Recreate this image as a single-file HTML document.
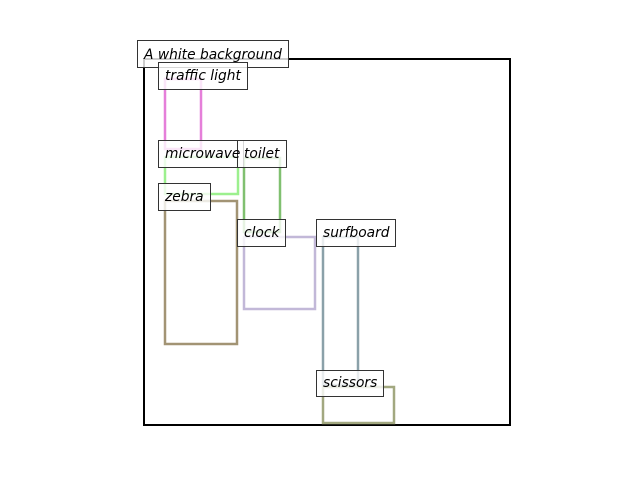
<!DOCTYPE html>
<html><head><style>body{margin:0;background:#fff}svg{display:block}text{font-family:"DejaVu Sans","Liberation Sans",sans-serif;font-style:italic;font-size:13.8px;fill:#000}</style></head>
<body>
<svg width="640" height="480" viewBox="0 0 640 480">
<rect x="144" y="59" width="366" height="366" fill="#fff" stroke="#000" stroke-width="2"/>
<g fill="none" stroke-width="2.5">
<rect x="165" y="79" width="36" height="70" stroke="#e57fd9"/>
<rect x="165" y="157" width="73" height="37" stroke="#9cf08e"/>
<rect x="244" y="158" width="36" height="74" stroke="#80c070"/>
<rect x="165" y="201" width="72" height="143" stroke="#a29474"/>
<rect x="244" y="237" width="71" height="72" stroke="#c2b8d8"/>
<rect x="323" y="237" width="35" height="148" stroke="#8ba1a9"/>
<rect x="323" y="387" width="71" height="36" stroke="#a2a880"/>
</g>
<g fill="#fff" fill-opacity="0.8" stroke="#333" stroke-width="1">
<rect x="137.5" y="40.5" width="151" height="27"/>
<rect x="158.5" y="62.5" width="89" height="27"/>
<rect x="158.5" y="140.5" width="85" height="27"/>
<rect x="237.5" y="140.5" width="49" height="27"/>
<rect x="158.5" y="183.5" width="52" height="27"/>
<rect x="237.5" y="219.5" width="48" height="27"/>
<rect x="316.5" y="219.5" width="79" height="27"/>
<rect x="316.5" y="370.5" width="67" height="26"/>
</g>
<text x="144" y="59">A white background</text>
<text x="165" y="80">traffic light</text>
<text x="165" y="158">microwave</text>
<text x="244" y="158">toilet</text>
<text x="165" y="201">zebra</text>
<text x="244" y="237">clock</text>
<text x="323" y="237">surfboard</text>
<text x="323" y="387">scissors</text>
</svg>
</body></html>
